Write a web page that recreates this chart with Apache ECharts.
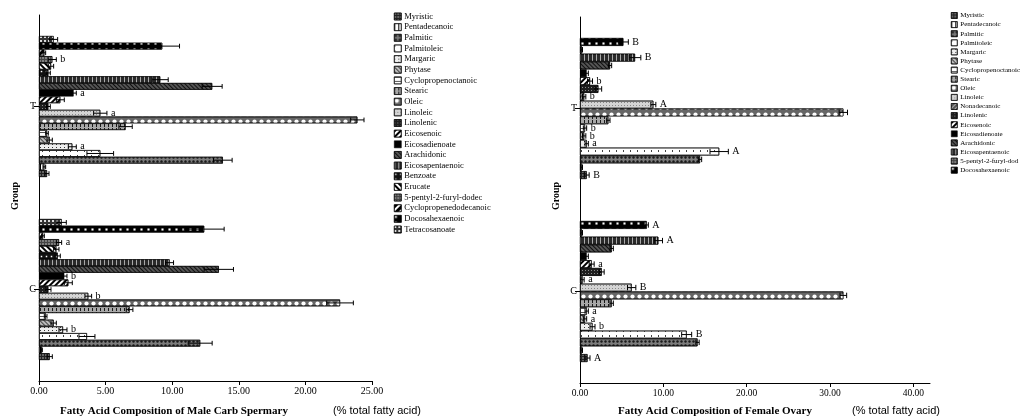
<!DOCTYPE html>
<html>
<head>
<meta charset="utf-8">
<script src="https://cdn.jsdelivr.net/npm/echarts@6/dist/echarts.min.js"></script>
<style>
  html, body { margin: 0; padding: 0; background: #fff; }
  #chart { width: 1029px; height: 420px; }
</style>
</head>
<body>
<div id="chart"></div>
<script>
// Groups on the category axis (C = control, T = treatment)
const groups = ['C', 'T'];

// ---- Male carp spermary ----
const maleAcids = ['Myristic', 'Pentadecanoic', 'Palmitic', 'Palmitoleic', 'Margaric', 'Phytase',
  'Cyclopropenoctanoic', 'Stearic', 'Oleic', 'Linoleic', 'Linolenic', 'Eicosenoic', 'Eicosadienoate',
  'Arachidonic', 'Eicosapentaenoic', 'Benzoate', 'Erucate', '5-pentyl-2-furyl-dodec',
  'Cyclopropenedodecanoic', 'Docosahexaenoic', 'Tetracosanoate'];
const maleC    = [0.8, 0.2, 12.1, 3.6, 1.8, 1.1, 0.5, 6.8, 22.6, 3.7, 0.7, 2.2, 1.9, 13.5, 9.8, 1.4, 1.3, 1.5, 0.3, 12.4, 1.7];
const maleCErr = [0.2, 0.05, 0.9, 0.6, 0.3, 0.2, 0.1, 0.25, 1.0, 0.25, 0.2, 0.3, 0.2, 1.1, 0.3, 0.2, 0.2, 0.2, 0.1, 1.5, 0.35];
const maleCSig = ['', '', '', '', 'b', '', '', '', '', 'b', '', '', 'b', '', '', '', '', 'a', '', '', ''];
const maleT    = [0.6, 0.4, 13.8, 4.6, 2.5, 0.8, 0.6, 6.5, 23.9, 4.6, 0.7, 1.6, 2.6, 13.0, 9.1, 0.7, 0.9, 1.0, 0.4, 9.25, 1.1];
const maleTErr = [0.15, 0.1, 0.7, 1.0, 0.3, 0.2, 0.1, 0.5, 0.5, 0.5, 0.15, 0.3, 0.2, 0.75, 0.6, 0.15, 0.2, 0.3, 0.1, 1.3, 0.3];
const maleTSig = ['', '', '', '', 'a', '', '', '', '', 'a', '', '', 'a', '', '', '', '', 'b', '', '', ''];

// ---- Female ovary ----
const femaleAcids = ['Myristic', 'Pentadecanoic', 'Palmitic', 'Palmitoleic', 'Margaric', 'Phytase',
  'Cyclopropenoctanoic', 'Stearic', 'Oleic', 'Linoleic', 'Nonadecanoic', 'Linolenic', 'Eicosenoic',
  'Eicosadienoate', 'Arachidonic', 'Eicosapentaenoic', '5-pentyl-2-furyl-dod', 'Docosahexaenoic'];
const femaleC    = [0.9, 0.2, 14.1, 12.8, 1.5, 0.6, 0.8, 3.8, 31.6, 6.2, 0.3, 2.6, 1.4, 0.8, 3.8, 9.4, 0.2, 8.0];
const femaleCErr = [0.3, 0.1, 0.2, 0.6, 0.3, 0.2, 0.2, 0.2, 0.4, 0.5, 0.2, 0.3, 0.3, 0.2, 0.2, 0.5, 0.1, 0.2];
const femaleCSig = ['A', '', '', 'B', 'b', 'a', 'a', '', '', 'B', 'a', '', 'a', '', '', 'A', '', 'A'];
const femaleT    = [0.8, 0.2, 14.4, 16.7, 0.8, 0.5, 0.6, 3.4, 31.6, 8.8, 0.5, 2.2, 1.2, 0.8, 3.6, 6.6, 0.2, 5.2];
const femaleTErr = [0.3, 0.1, 0.2, 1.1, 0.2, 0.2, 0.2, 0.2, 0.5, 0.3, 0.2, 0.4, 0.3, 0.2, 0.2, 0.7, 0.1, 0.6];
const femaleTSig = ['B', '', '', 'A', 'a', 'b', 'b', '', '', 'A', 'b', '', 'b', '', '', 'B', '', 'B'];

// Axis ticks
const maleTicks = [0, 5, 10, 15, 20, 25];
const femaleTicks = [0, 10, 20, 30, 40];

// ---- Styling ----
const SERIF = '"Liberation Serif", "DejaVu Serif", serif';
const SANS = '"Liberation Sans", Arial, sans-serif';
const CAT_GAP = 0.23;

function decal(o) {
  return Object.assign({ symbol: 'rect', symbolSize: 1, color: '#000' }, o);
}
const fills = {
  'Myristic': ['#222', decal({ color: '#fff', symbolSize: 0.6, dashArrayX: [2, 1], dashArrayY: [2, 1] })],
  'Pentadecanoic': ['#fff', decal({ dashArrayX: [1, 3], dashArrayY: [1, 0] })],
  'Palmitic': ['#7c7c7c', decal({ symbol: 'circle', color: '#1a1a1a', symbolSize: 0.8, dashArrayX: [3, 1], dashArrayY: [3, 1] })],
  'Palmitoleic': ['#fff', decal({ color: '#444', dashArrayX: [1, 6], dashArrayY: [2, 3] })],
  'Margaric': ['#eee', decal({ color: '#333', dashArrayX: [1, 3], dashArrayY: [1, 2] })],
  'Phytase': ['#bbb', decal({ color: '#444', dashArrayX: [1, 0], dashArrayY: [1, 2], rotation: Math.PI / 4 })],
  'Cyclopropenoctanoic': ['#fff', decal({ color: '#555', dashArrayX: [1, 0], dashArrayY: [1, 3] })],
  'Stearic': ['#a8a8a8', decal({ color: '#1a1a1a', dashArrayX: [1, 3], dashArrayY: [3, 1] })],
  'Oleic': ['#666', decal({ symbol: 'circle', color: '#fff', symbolSize: 0.85, dashArrayX: [5, 2], dashArrayY: [5, 2] })],
  'Linoleic': ['#d4d4d4', decal({ color: '#888', dashArrayX: [1, 2], dashArrayY: [1, 2] })],
  'Nonadecanoic': ['#555', decal({ color: '#aaa', dashArrayX: [1, 0], dashArrayY: [1, 2], rotation: -Math.PI / 4 })],
  'Linolenic': ['#1e1e1e', decal({ color: '#888', dashArrayX: [1, 2], dashArrayY: [1, 2] })],
  'Eicosenoic': ['#fff', decal({ dashArrayX: [1, 0], dashArrayY: [2, 2], rotation: -Math.PI / 4 })],
  'Eicosadienoate': ['#000', null],
  'Arachidonic': ['#555', decal({ color: '#111', dashArrayX: [1, 0], dashArrayY: [1, 1.5], rotation: Math.PI / 4 })],
  'Eicosapentaenoic': ['#2a2a2a', decal({ color: '#aaa', dashArrayX: [1, 3], dashArrayY: [1, 0] })],
  'Benzoate': ['#111', decal({ color: '#fff', symbolSize: 0.5, dashArrayX: [3, 2], dashArrayY: [3, 2] })],
  'Erucate': ['#fff', decal({ dashArrayX: [1, 0], dashArrayY: [2, 2], rotation: Math.PI / 4 })],
  '5-pentyl-2-furyl-dodec': ['#444', decal({ symbol: 'circle', color: '#999', symbolSize: 0.9, dashArrayX: [2, 1], dashArrayY: [2, 1] })],
  '5-pentyl-2-furyl-dod': ['#444', decal({ symbol: 'circle', color: '#999', symbolSize: 0.9, dashArrayX: [2, 1], dashArrayY: [2, 1] })],
  'Cyclopropenedodecanoic': ['#fff', decal({ dashArrayX: [1, 0], dashArrayY: [3, 2], rotation: -Math.PI / 4 })],
  'Docosahexaenoic': ['#000', decal({ color: '#fff', symbolSize: 0.7, dashArrayX: [3, 4], dashArrayY: [3, 3] })],
  'Tetracosanoate': ['#333', decal({ color: '#ddd', dashArrayX: [2, 2], dashArrayY: [2, 2] })]
};

// Bar series for one panel; added top-down so the first acid sits at the bottom of each group
function barSeries(acids, cVals, tVals, axisIdx) {
  const out = [];
  for (let k = acids.length - 1; k >= 0; k--) {
    const name = acids[k];
    const f = fills[name];
    const itemStyle = { color: f[0], borderColor: '#000', borderWidth: 0.6 };
    if (f[1]) itemStyle.decal = f[1];
    out.push({
      type: 'bar', name: name, xAxisIndex: axisIdx, yAxisIndex: axisIdx,
      data: [cVals[k], tVals[k]],
      barGap: '0%', barCategoryGap: (CAT_GAP * 100) + '%',
      itemStyle: itemStyle, emphasis: { disabled: true }, animation: false
    });
  }
  return out;
}

// Error bars and significance letters, placed on the matching bar slot
function errorSeries(acids, vals, errs, sigs, axisIdx, fontPx) {
  const N = acids.length;
  const items = [];
  groups.forEach(function (g, c) {
    acids.forEach(function (a, k) {
      items.push({ value: [vals[g][k], c, errs[g][k], k], sig: sigs[g][k] });
    });
  });
  return {
    type: 'custom', name: 'err' + axisIdx, xAxisIndex: axisIdx, yAxisIndex: axisIdx,
    data: items.map(function (d) { return d.value; }),
    encode: { x: 0, y: 1 }, z: 5, silent: true, animation: false,
    renderItem: function (params, api) {
      const v = api.value(0), c = api.value(1), e = api.value(2), k = api.value(3);
      const band = api.size([0, 1])[1];
      const total = band * (1 - CAT_GAP);
      const w = total / N;
      const yc = api.coord([0, c])[1];
      const y = yc - total / 2 + (N - 1 - k + 0.5) * w;
      const x0 = api.coord([Math.max(v - e, 0), c])[0];
      const x1 = api.coord([v + e, c])[0];
      const cap = w * 0.35;
      const st = { stroke: '#000', lineWidth: 1 };
      const children = [
        { type: 'line', shape: { x1: x0, y1: y, x2: x1, y2: y }, style: st },
        { type: 'line', shape: { x1: x1, y1: y - cap, x2: x1, y2: y + cap }, style: st },
        { type: 'line', shape: { x1: x0, y1: y - cap, x2: x0, y2: y + cap }, style: st }
      ];
      const sig = items[params.dataIndex].sig;
      if (sig) {
        children.push({
          type: 'text',
          style: { text: sig, x: x1 + 4, y: y, fill: '#000', font: fontPx + 'px ' + SERIF, verticalAlign: 'middle', align: 'left' }
        });
      }
      return { type: 'group', children: children };
    }
  };
}

function valueAxis(idx, max, ticks, fontPx) {
  return {
    type: 'value', gridIndex: idx, min: 0, max: max,
    axisLine: { show: true, lineStyle: { color: '#000', width: 1 } },
    axisTick: { show: true, length: 4, lineStyle: { color: '#000' }, customValues: ticks },
    axisLabel: { color: '#000', fontFamily: SERIF, fontSize: fontPx, margin: 5, customValues: ticks,
      formatter: function (v) { return v.toFixed(2); } },
    splitLine: { show: false }
  };
}
function groupAxis(idx) {
  return {
    type: 'category', gridIndex: idx, data: groups,
    axisLine: { show: true, lineStyle: { color: '#000', width: 1 } },
    axisTick: { show: true, alignWithLabel: true, length: 5, lineStyle: { color: '#000' } },
    axisLabel: { color: '#000', fontFamily: SERIF, fontSize: 10, margin: 3 },
    splitLine: { show: false }
  };
}

const chart = echarts.init(document.getElementById('chart'), null, { renderer: 'canvas' });
chart.setOption({
  backgroundColor: '#fff',
  animation: false,
  grid: [
    { left: 39, top: 15, width: 333, height: 366 },
    { left: 580, top: 17, width: 350, height: 366 }
  ],
  xAxis: [valueAxis(0, 25, maleTicks, 10), valueAxis(1, 42, femaleTicks, 9.5)],
  yAxis: [groupAxis(0), groupAxis(1)],
  legend: [
    {
      data: maleAcids, orient: 'vertical', left: 394, top: 12, padding: 0,
      icon: 'rect', itemWidth: 7, itemHeight: 7, itemGap: 1.65, selectedMode: false,
      itemStyle: { borderColor: '#000', borderWidth: 0.6 },
      textStyle: { fontFamily: SERIF, fontSize: 8.5, color: '#000', lineHeight: 8.5, padding: [0, 0, 0, -2] }
    },
    {
      data: femaleAcids, orient: 'vertical', left: 951, top: 12, padding: 0,
      icon: 'rect', itemWidth: 6, itemHeight: 6, itemGap: 2.1, selectedMode: false,
      itemStyle: { borderColor: '#000', borderWidth: 0.6 },
      textStyle: { fontFamily: SERIF, fontSize: 7, color: '#000', lineHeight: 7, padding: [0, 0, 0, -2] }
    }
  ],
  series: []
    .concat(barSeries(maleAcids, maleC, maleT, 0))
    .concat(barSeries(femaleAcids, femaleC, femaleT, 1))
    .concat([
      errorSeries(maleAcids, { C: maleC, T: maleT }, { C: maleCErr, T: maleTErr }, { C: maleCSig, T: maleTSig }, 0, 10),
      errorSeries(femaleAcids, { C: femaleC, T: femaleT }, { C: femaleCErr, T: femaleTErr }, { C: femaleCSig, T: femaleTSig }, 1, 10)
    ]),
  graphic: [
    { type: 'text', x: 15, y: 196, rotation: Math.PI / 2,
      style: { text: 'Group', font: 'bold 10px ' + SERIF, fill: '#000', align: 'center', verticalAlign: 'middle' } },
    { type: 'text', x: 556, y: 196, rotation: Math.PI / 2,
      style: { text: 'Group', font: 'bold 10px ' + SERIF, fill: '#000', align: 'center', verticalAlign: 'middle' } },
    { type: 'text', x: 60, y: 411,
      style: { text: 'Fatty Acid Composition of Male Carb Spermary', font: 'bold 11px ' + SERIF, fill: '#000', verticalAlign: 'middle' } },
    { type: 'text', x: 333, y: 411,
      style: { text: '(% total fatty acid)', font: '11px ' + SANS, fill: '#000', verticalAlign: 'middle' } },
    { type: 'text', x: 618, y: 411,
      style: { text: 'Fatty Acid Composition of Female Ovary', font: 'bold 11px ' + SERIF, fill: '#000', verticalAlign: 'middle' } },
    { type: 'text', x: 852, y: 411,
      style: { text: '(% total fatty acid)', font: '11px ' + SANS, fill: '#000', verticalAlign: 'middle' } }
  ]
});
</script>
</body>
</html>
